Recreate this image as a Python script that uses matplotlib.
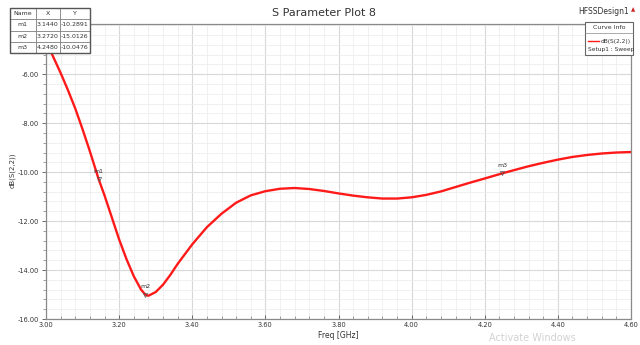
import matplotlib
matplotlib.use("Agg")
import matplotlib.pyplot as plt
from matplotlib.patches import Rectangle
from matplotlib.lines import Line2D
from matplotlib.ticker import MultipleLocator, FormatStrFormatter

# ---------------- data ----------------
freq_ghz = [3.00, 3.02, 3.04, 3.06, 3.08, 3.10, 3.12, 3.144, 3.16, 3.18, 3.20,
            3.22, 3.24, 3.26, 3.272, 3.28, 3.30, 3.32, 3.34, 3.36, 3.38, 3.40,
            3.44, 3.48, 3.52, 3.56, 3.60, 3.64, 3.68, 3.72, 3.76, 3.80, 3.84,
            3.88, 3.92, 3.96, 4.00, 4.04, 4.08, 4.12, 4.16, 4.20, 4.248, 4.28,
            4.32, 4.36, 4.40, 4.44, 4.48, 4.52, 4.56, 4.60]
s22_db = [-4.65, -5.30, -5.95, -6.65, -7.40, -8.25, -9.15, -10.29, -10.95, -11.85, -12.75,
          -13.55, -14.25, -14.80, -15.01, -15.05, -14.90, -14.60, -14.20, -13.75, -13.35, -12.95,
          -12.25, -11.70, -11.25, -10.95, -10.78, -10.68, -10.65, -10.69, -10.77, -10.87, -10.96,
          -11.03, -11.08, -11.08, -11.03, -10.93, -10.79, -10.61, -10.43, -10.26, -10.05, -9.92,
          -9.76, -9.62, -9.49, -9.38, -9.30, -9.24, -9.20, -9.18]

marker_names = ["m1", "m2", "m3"]
marker_x = [3.1440, 3.2720, 4.2480]
marker_y = [-10.2891, -15.0126, -10.0476]

x_ticks = [3.00, 3.20, 3.40, 3.60, 3.80, 4.00, 4.20, 4.40, 4.60]
y_ticks = [-16.0, -14.0, -12.0, -10.0, -8.0, -6.0]

title = "S Parameter Plot 8"
x_label = "Freq [GHz]"
y_label = "dB(S(2,2))"
curve_name = "dB(S(2,2))"
setup_name = "Setup1 : Sweep"
design_name = "HFSSDesign1"

# ---------------- figure ----------------
plt.rcParams["font.family"] = ["DejaVu Sans"]
fig = plt.figure(figsize=(6.4, 3.45), dpi=100)
fig.patch.set_facecolor("white")
ax = fig.add_axes([46 / 640, 26 / 345, (631 - 46) / 640, (320 - 25) / 345])

ax.plot(freq_ghz, s22_db, color="#ff1a1a", lw=1.7, solid_capstyle="round", zorder=3)

ax.set_xlim(3.0, 4.6)
ax.set_ylim(-16.0, -3.95)
ax.set_xticks(x_ticks)
ax.set_yticks(y_ticks)
ax.xaxis.set_minor_locator(MultipleLocator(0.04))
ax.yaxis.set_minor_locator(MultipleLocator(0.4))
ax.xaxis.set_major_formatter(FormatStrFormatter("%.2f"))
ax.yaxis.set_major_formatter(FormatStrFormatter("%.2f"))
ax.grid(True, which="major", color="#d8d8d8", lw=0.8, zorder=0)
ax.grid(True, which="minor", color="#eeeeee", lw=0.6, zorder=0)
ax.set_axisbelow(True)
ax.tick_params(axis="both", which="major", labelsize=4.8, colors="#555555",
               labelcolor="#333333", length=3, width=0.6, pad=2)
ax.tick_params(axis="both", which="minor", length=2, width=0.5, colors="#777777")
ax.tick_params(axis="x", which="both", direction="in")
ax.tick_params(axis="y", which="both", direction="out")
for side in ["top", "right", "left", "bottom"]:
    ax.spines[side].set_color("#8a8a8a")
    ax.spines[side].set_linewidth(0.9)

ax.set_xlabel(x_label, fontsize=5.5, color="#333333", labelpad=2)
fig.text(12 / 640, 1 - 170 / 345, y_label, rotation=90, ha="center", va="center",
         fontsize=5, color="#333333")

fig.text(324 / 640, 1 - 13 / 345, title, ha="center", va="center", fontsize=8, color="#333333")
fig.text(604 / 640, 1 - 12 / 345, design_name, ha="center", va="center", fontsize=5.5, color="#333333")
fig.text(633 / 640, 1 - 10 / 345, "\u25b2", ha="center", va="center", fontsize=4, color="#cc2222")

# markers
for name, mx, my in zip(marker_names, marker_x, marker_y):
    ax.plot([mx], [my], marker="v", ms=3, mfc="none", mec="#555555", mew=0.5, zorder=4)
    ax.annotate(name, (mx, my), xytext=(0, 4), textcoords="offset points",
                ha="center", va="bottom", fontsize=4.5, color="#333333", zorder=5)

# marker table
tab_ax = fig.add_axes([10 / 640, 1 - 53 / 345, 80 / 640, 45 / 345])
tab_ax.set_axis_off()
cell_text = [[n, f"{x:.4f}", f"{y:.4f}"] for n, x, y in zip(marker_names, marker_x, marker_y)]
tbl = tab_ax.table(cellText=cell_text, colLabels=["Name", "X", "Y"], bbox=[0, 0, 1, 1],
                   cellLoc="center", colWidths=[0.32, 0.3, 0.38])
tbl.auto_set_font_size(False)
tbl.set_fontsize(4.5)
for (r, c), cell in tbl.get_celld().items():
    cell.set_edgecolor("#777777")
    cell.set_linewidth(0.5)
    cell.set_facecolor("white")
    cell.get_text().set_color("#333333")
fig.patches.append(Rectangle((10 / 640, 1 - 53 / 345), 80 / 640, 45 / 345, transform=fig.transFigure,
                             fill=False, ec="#555555", lw=1.0, zorder=10))

# curve info box
bx, by, bw, bh = 585 / 640, 1 - 55 / 345, 48 / 640, 33 / 345
fig.patches.append(Rectangle((bx, by), bw, bh, transform=fig.transFigure,
                             fc="white", ec="#666666", lw=0.8, zorder=10))
fig.lines.append(Line2D([bx, bx + bw], [by + bh - 11 / 345] * 2, transform=fig.transFigure,
                        color="#888888", lw=0.5, zorder=11))
fig.text(bx + bw / 2, by + bh - 5.5 / 345, "Curve Info", ha="center", va="center",
         fontsize=4.5, color="#333333", zorder=12)
fig.lines.append(Line2D([bx + 3 / 640, bx + 14 / 640], [by + 14 / 345] * 2, transform=fig.transFigure,
                        color="#ff1a1a", lw=1.0, zorder=12))
fig.text(bx + bw - 2 / 640, by + 14 / 345, curve_name, ha="right", va="center",
         fontsize=4.2, color="#333333", zorder=12)
fig.text(bx + 3 / 640, by + 6 / 345, setup_name, ha="left", va="center",
         fontsize=4.2, color="#333333", zorder=12)

fig.text(532 / 640, 1 - 338 / 345, "Activate Windows", ha="center", va="center",
         fontsize=7, color="#d2d2d2")

fig.savefig("out.png", dpi=100, facecolor="white")
